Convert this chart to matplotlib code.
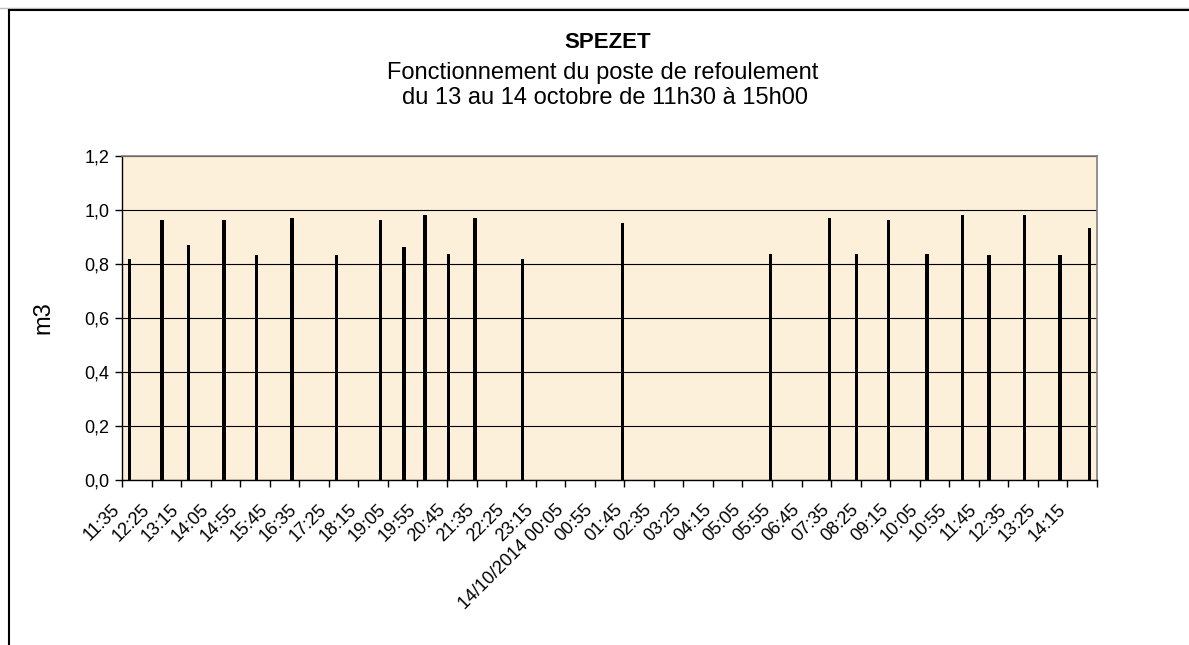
import numpy as np
import pandas as pd
import matplotlib
matplotlib.use('Agg')
import matplotlib.pyplot as plt
import matplotlib.transforms as mtransforms
from matplotlib.lines import Line2D

plt.rcParams['font.family'] = ['Liberation Sans', 'DejaVu Sans']

# créneaux de 5 minutes du 13/10 11h35 au 14/10 15h00
slots = pd.date_range('2014-10-13 11:35', '2014-10-14 15:00', freq='5min')

# démarrages de la pompe et volume refoulé (m3)
pump_times = ['2014-10-13 11:45', '2014-10-13 12:40', '2014-10-13 13:25', '2014-10-13 14:25',
              '2014-10-13 15:20', '2014-10-13 16:20', '2014-10-13 17:35', '2014-10-13 18:50',
              '2014-10-13 19:30', '2014-10-13 20:05', '2014-10-13 20:45', '2014-10-13 21:30',
              '2014-10-13 22:50', '2014-10-14 01:40', '2014-10-14 05:50', '2014-10-14 07:30',
              '2014-10-14 08:15', '2014-10-14 09:10', '2014-10-14 10:15', '2014-10-14 11:15',
              '2014-10-14 12:00', '2014-10-14 13:00', '2014-10-14 14:00', '2014-10-14 14:50']
pump_volumes = [0.82, 0.964, 0.87, 0.964, 0.832, 0.97, 0.832, 0.964,
                0.863, 0.983, 0.838, 0.97, 0.82, 0.952, 0.838, 0.97,
                0.838, 0.964, 0.838, 0.983, 0.832, 0.983, 0.832, 0.933]

tick_labels = ['11:35', '12:25', '13:15', '14:05', '14:55', '15:45', '16:35', '17:25',
               '18:15', '19:05', '19:55', '20:45', '21:35', '22:25', '23:15',
               '14/10/2014 00:05', '00:55', '01:45', '02:35', '03:25', '04:15', '05:05',
               '05:55', '06:45', '07:35', '08:25', '09:15', '10:05', '10:55', '11:45',
               '12:35', '13:25', '14:15']

y_ticks = [0.0, 0.2, 0.4, 0.6, 0.8, 1.0, 1.2]

volume = pd.Series(0.0, index=slots)
volume.loc[pd.to_datetime(pump_times)] = pump_volumes

W, H = 1189, 645
fig = plt.figure(figsize=(W / 100, H / 100), dpi=100)
ax = fig.add_axes([122 / W, 1 - 480 / H, (1097 - 122) / W, (480 - 156) / H])
ax.set_facecolor('#FCF0DA')

x = np.arange(len(slots))
ax.bar(x, volume.values, width=1.15, color='black', zorder=3)

ax.set_xlim(-0.5, len(slots) - 0.5)
ax.set_ylim(0, 1.2)

# graduations entre les groupes de 10 créneaux
ax.set_xticks(np.arange(-0.5, len(slots), 10))
ax.set_xticklabels([])
ax.tick_params(axis='x', length=5, width=1, color='black', direction='out')

# étiquettes à 45° sous le 1er créneau de chaque groupe
shift = mtransforms.ScaledTranslation(-12 / 100, -21 / 100, fig.dpi_scale_trans)
lab_pos = np.arange(0, len(slots), 10)
for pos, lab in zip(lab_pos, tick_labels):
    ax.text(pos, 0, lab, transform=ax.get_xaxis_transform() + shift,
            rotation=45, ha='right', va='top', rotation_mode='anchor',
            fontsize=13, clip_on=False)

ax.set_yticks(y_ticks)
ax.set_yticklabels([('%.1f' % v).replace('.', ',') for v in y_ticks], fontsize=13)
ax.tick_params(axis='y', length=5, width=1, color='black', pad=4)

ax.grid(axis='y', color='black', linewidth=0.8, zorder=1)
ax.set_axisbelow(True)
for s in ['top', 'right']:
    ax.spines[s].set_color('#808080')
    ax.spines[s].set_linewidth(1.2)
for s in ['left', 'bottom']:
    ax.spines[s].set_color('black')
    ax.spines[s].set_linewidth(1)

fig.text(608 / W, 1 - 42 / H, 'SPEZET', ha='center', va='center', fontsize=16, fontweight='bold')
fig.text(603 / W, 1 - 73 / H, 'Fonctionnement du poste de refoulement', ha='center', va='center', fontsize=17)
fig.text(605 / W, 1 - 98 / H, 'du 13 au 14 octobre de 11h30 à 15h00', ha='center', va='center', fontsize=17)
fig.text(43 / W, 1 - 318 / H, 'm3', rotation=90, ha='center', va='center', fontsize=17)

# cadre du graphique (coupé à droite et en bas)
fig.add_artist(Line2D([0, 1], [1 - 7.5 / H, 1 - 7.5 / H], transform=fig.transFigure, color='#C0C0C0', lw=1))
fig.add_artist(Line2D([8.5 / W, 1], [1 - 9.5 / H, 1 - 9.5 / H], transform=fig.transFigure, color='black', lw=1.5))
fig.add_artist(Line2D([8.5 / W, 8.5 / W], [0, 1 - 9.5 / H], transform=fig.transFigure, color='black', lw=1.5))

fig.savefig('out.png', dpi=100, facecolor='white')
